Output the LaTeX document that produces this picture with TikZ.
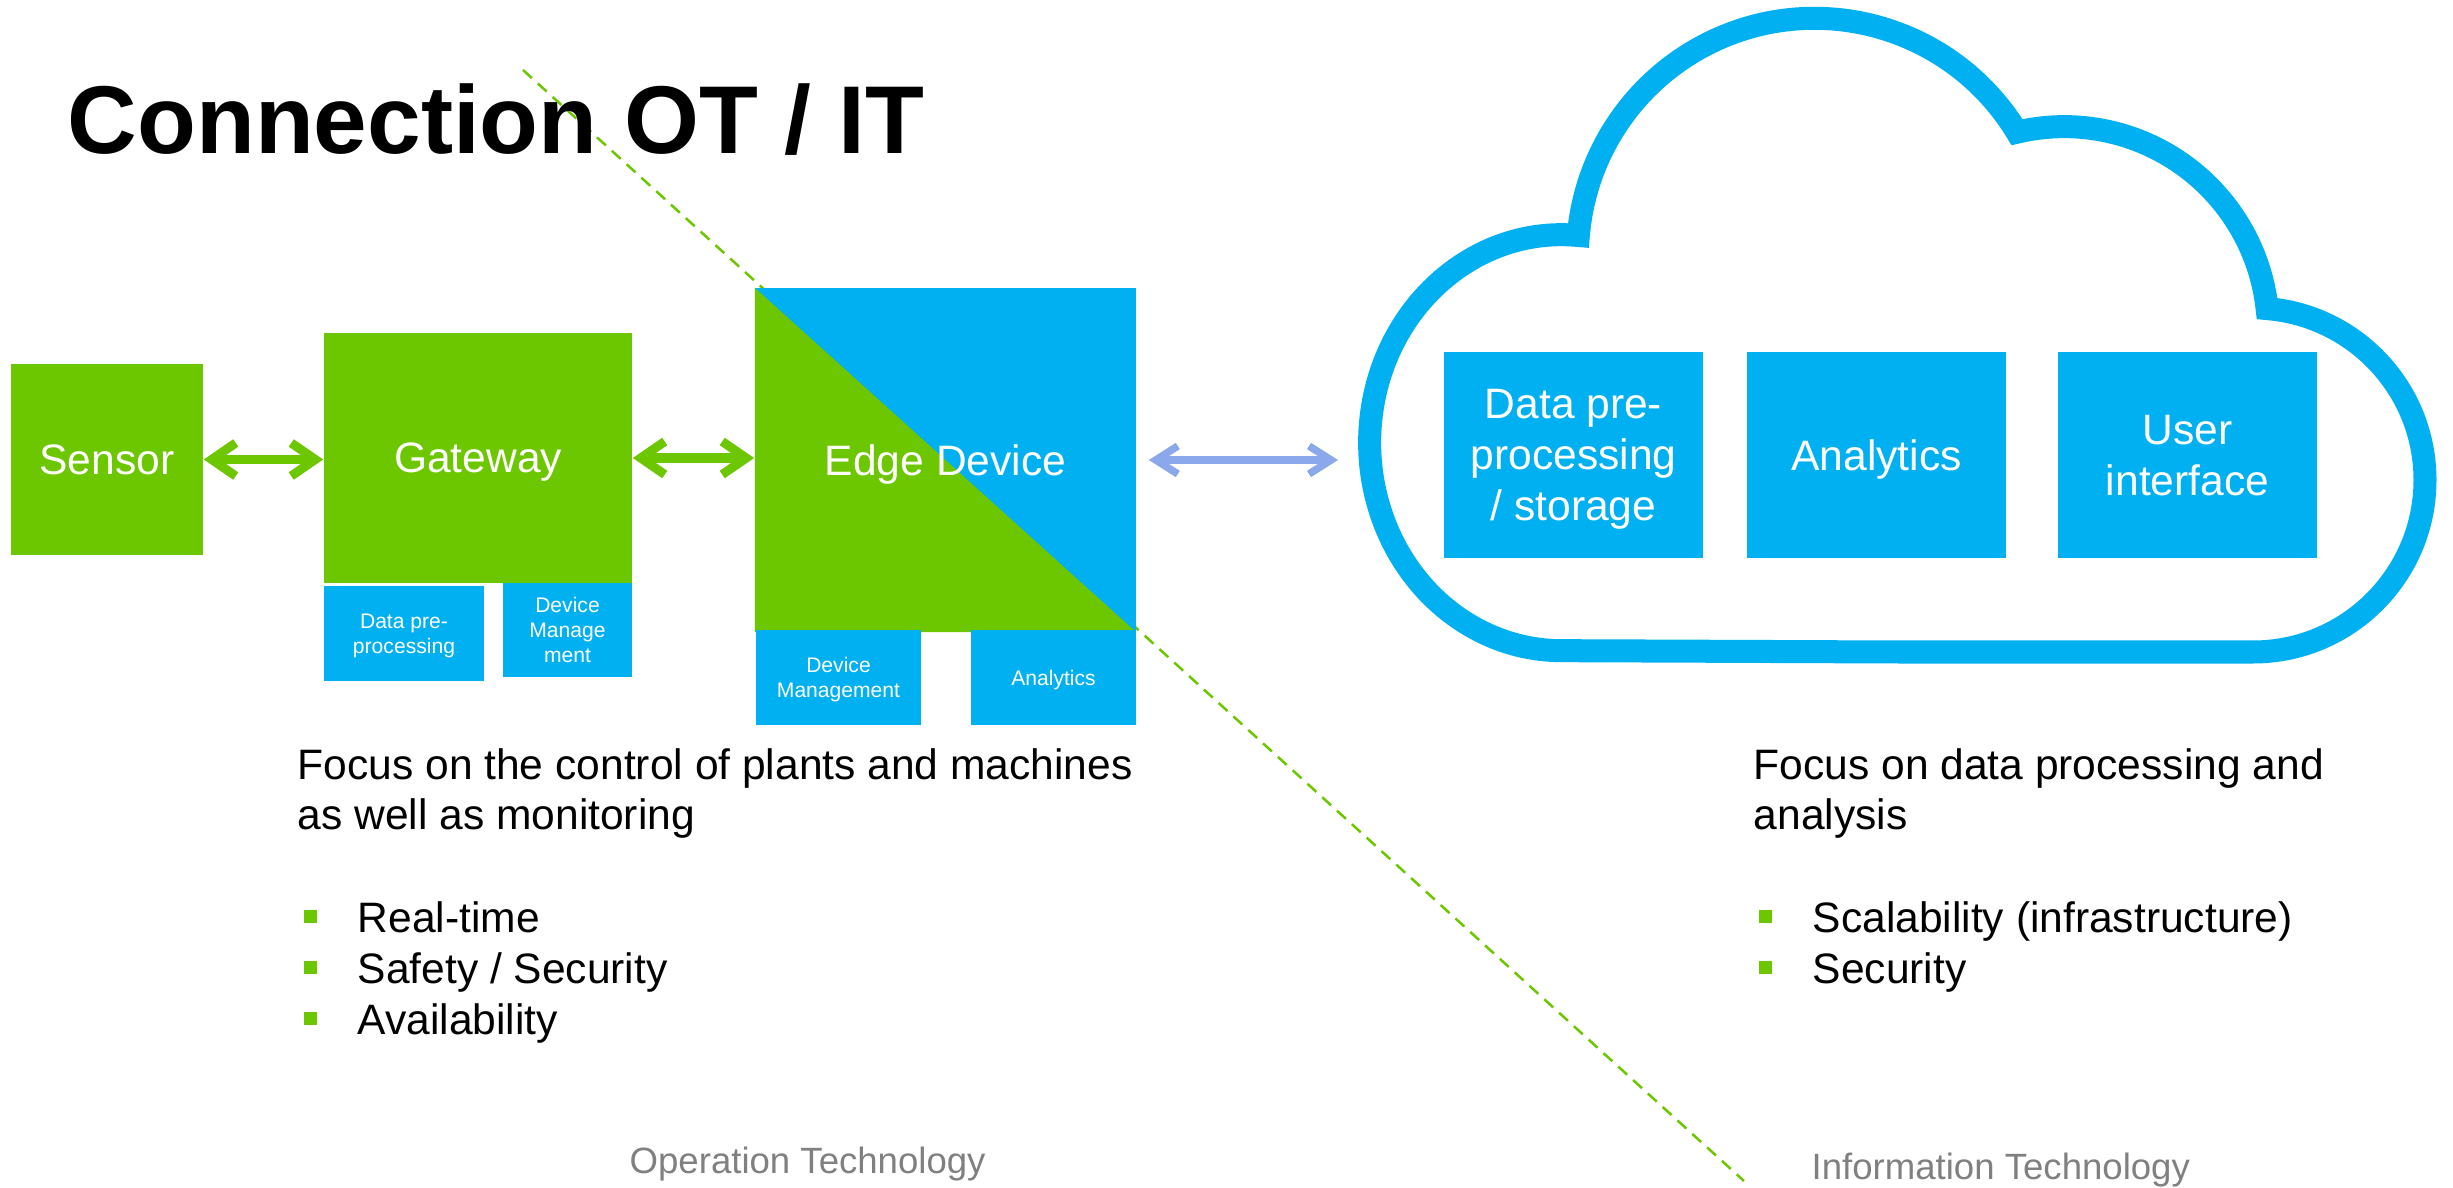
\documentclass[tikz,border=0pt]{standalone}
\usepackage{fontspec}
\setmainfont{Liberation Sans}
\usepackage{tikz}
\usetikzlibrary{arrows.meta}

\definecolor{otgreen}{RGB}{108,198,0}
\definecolor{itblue}{RGB}{0,176,240}
\definecolor{linkblue}{RGB}{140,168,236}
\definecolor{labelgray}{RGB}{128,128,128}

\newcommand{\mainsize}{\fontsize{12.1pt}{14.5pt}\selectfont}
\newcommand{\smallsize}{\fontsize{6pt}{7.1pt}\selectfont}
\newcommand{\otbullet}{\textcolor{otgreen}{\rule[0.09cm]{0.13cm}{0.13cm}}\hspace{0.41cm}}

\begin{document}
\begin{tikzpicture}[
    x=0.01cm, y=-0.01cm,
    every node/.style={inner sep=0pt, font=\mainsize},
    block/.style={rectangle, text=white, align=center, text depth=0pt},
    otblock/.style={block, fill=otgreen},
    itblock/.style={block, fill=itblue},
    subblock/.style={block, fill=itblue, font=\smallsize},
    otarrow/.style={draw=otgreen, line width=0.09cm, line cap=round,
      arrows={Straight Barb[length=0.24cm, width=0.33cm, line join=miter]-Straight Barb[length=0.24cm, width=0.33cm, line join=miter]}},
    itarrow/.style={draw=linkblue, line width=0.075cm, line cap=round,
      arrows={Straight Barb[length=0.22cm, width=0.28cm, line join=miter]-Straight Barb[length=0.22cm, width=0.28cm, line join=miter]}},
    cloudline/.style={draw=itblue, line width=0.23cm},
    divider/.style={draw=otgreen, line width=0.025cm, dash pattern=on 0.12cm off 0.08cm},
    headline/.style={anchor=base west, font=\bfseries\fontsize{27.4pt}{33pt}\selectfont},
    bodytext/.style={anchor=base west},
    techlabel/.style={anchor=base west, text=labelgray, font=\fontsize{10.4pt}{12.5pt}\selectfont}
  ]
  \useasboundingbox (0,0) rectangle (2453,1188);

  % OT / IT border
  \draw[divider] (523,70) -- (1744,1181);

  \node[headline] (title) at (67,154) {Connection OT / IT};

  % OT side
  \node[otblock, minimum width=1.92cm, minimum height=1.91cm] (sensor) at (107,459.5) {Sensor};
  \node[otblock, minimum width=3.08cm, minimum height=2.5cm] (gateway) at (478,458) {Gateway};
  \node[subblock, minimum width=1.6cm, minimum height=0.95cm] (gwpre) at (404,633.5) {Data pre-\\processing};
  \node[subblock, minimum width=1.29cm, minimum height=0.94cm] (gwdev) at (567.5,630) {Device\\Manage\\ment};
  \node[itblock, minimum width=3.81cm, minimum height=3.44cm,
    path picture={\fill[otgreen] (path picture bounding box.north west)
      -- (path picture bounding box.south east)
      -- (path picture bounding box.south west) -- cycle;}] (edge) at (945.5,460) {Edge Device};
  \node[subblock, minimum width=1.65cm, minimum height=0.95cm] (edgedev) at (838.5,677.5) {Device\\Management};
  \node[subblock, minimum width=1.65cm, minimum height=0.95cm] (edgeana) at (1053.5,677.5) {Analytics};

  \draw[otarrow] (sensor.east) -- (sensor.east -| gateway.west);
  \draw[otarrow] (gateway.east) -- (gateway.east -| edge.west);

  % IT side
  \draw[cloudline] (1900,652) -- (2253,652)
    arc[start angle=90, end angle=-85.3, radius=172]
    arc[start angle=-6.2, end angle=-103.4, radius=204]
    arc[start angle=-31.3, end angle=-175.2, radius=237]
    arc[start angle=-85, end angle=-270, x radius=192, y radius=208] -- cycle;
  \node[itblock, minimum width=2.59cm, minimum height=2.06cm] (cloudpre) at (1573.5,455) {Data pre-\\processing\\/ storage};
  \node[itblock, minimum width=2.59cm, minimum height=2.06cm] (cloudana) at (1876.5,455) {Analytics};
  \node[itblock, minimum width=2.59cm, minimum height=2.06cm] (cloudui) at (2187.5,455) {User\\interface};

  \coordinate (cloudin) at (1338,460);
  \draw[itarrow] ([xshift=0.12cm]edge.east) -- (cloudin);

  % texts
  \node[bodytext] (otfocus) at (297,779) {\parbox[t]{9cm}{\mainsize Focus on the control of plants and machines\\as well as monitoring}};
  \node[bodytext] (otlist) at (303,932) {\parbox[t]{7cm}{\mainsize\baselineskip=0.51cm \otbullet Real-time\\\otbullet Safety / Security\\\otbullet Availability}};
  \node[bodytext] (itfocus) at (1753,779) {\parbox[t]{7cm}{\mainsize Focus on data processing and\\analysis}};
  \node[bodytext] (itlist) at (1758,932) {\parbox[t]{7cm}{\mainsize\baselineskip=0.51cm \otbullet Scalability (infrastructure)\\\otbullet Security}};

  \node[techlabel] (otlabel) at (629,1173) {Operation Technology};
  \node[techlabel] (itlabel) at (1811,1179) {Information Technology};
\end{tikzpicture}
\end{document}
